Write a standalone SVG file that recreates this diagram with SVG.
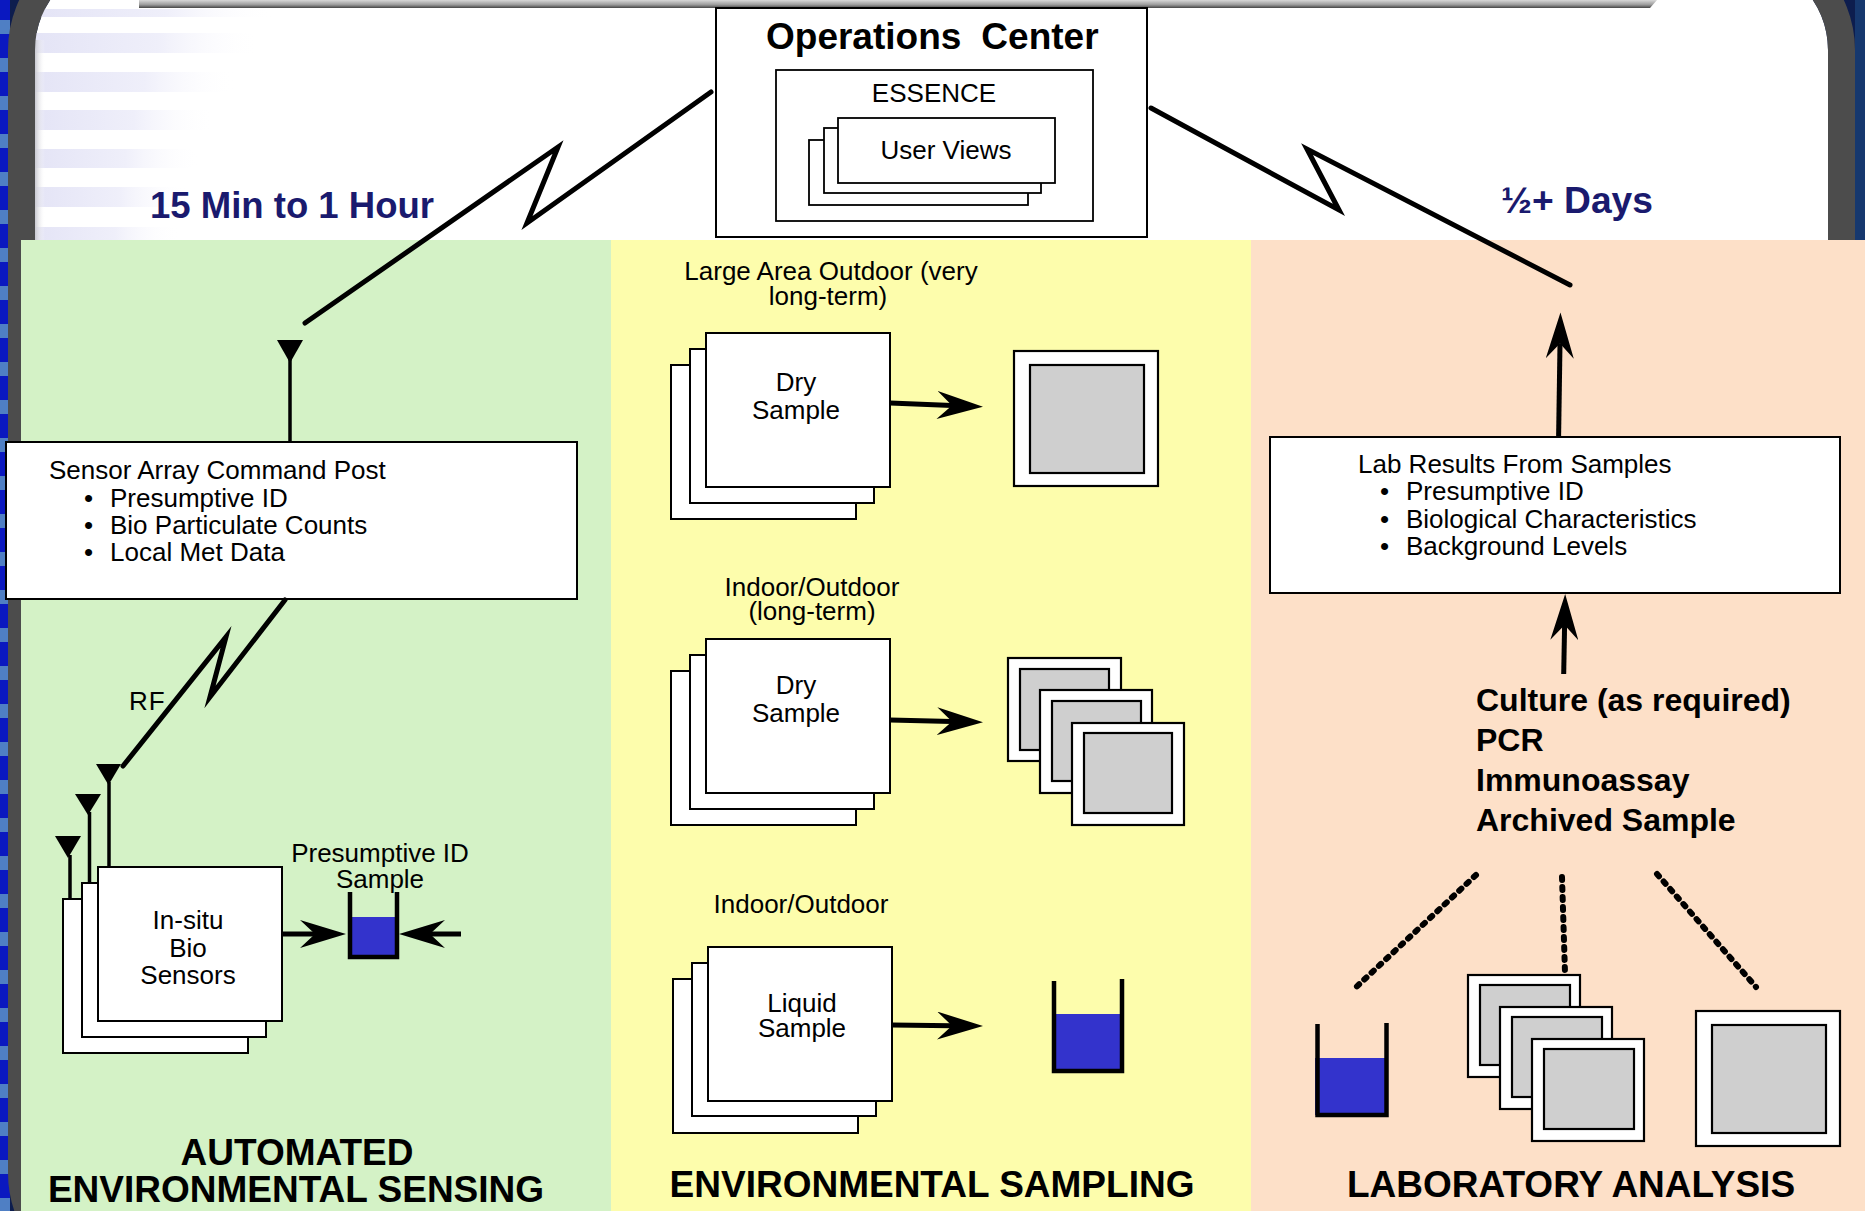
<svg xmlns="http://www.w3.org/2000/svg" width="1865" height="1211" viewBox="0 0 1865 1211">
<defs>
<style>
.t{font-family:"Liberation Sans",Arial,Helvetica,sans-serif;font-size:26px;fill:#000}
.c{text-anchor:middle}
.title{font-size:37px;font-weight:bold}
.time{font-size:36px;font-weight:bold;fill:#1a1a6e}
.list{font-size:32px;font-weight:bold}
.box{fill:#fff;stroke:#000;stroke-width:2}
.thin{fill:#fff;stroke:#000;stroke-width:1.8}
.film{fill:#cfcfcf;stroke:#000;stroke-width:2.2}
.frame{fill:#fff;stroke:#000;stroke-width:2.2}
.liquid{fill:#3333cc}
.wall{fill:none;stroke:#000;stroke-width:4.5;stroke-linejoin:miter}
.ant{fill:#000}
.mast{stroke:#000;stroke-width:3.5;fill:none}
.bolt{fill:none;stroke:#000;stroke-width:5;stroke-linejoin:miter;stroke-miterlimit:12;stroke-linecap:round}
.arr{fill:none;stroke:#000;stroke-width:5;marker-end:url(#ah)}
.dots{fill:none;stroke:#000;stroke-width:6;stroke-linecap:round;stroke-dasharray:3 7}
.stripe{fill:url(#fade)}
</style>
<linearGradient id="fade" x1="0" y1="0" x2="1" y2="0">
<stop offset="0" stop-color="#e4e4f6"/>
<stop offset="0.55" stop-color="#efeffa"/>
<stop offset="1" stop-color="#ffffff" stop-opacity="0"/>
</linearGradient>
<linearGradient id="bar" x1="0" y1="0" x2="0" y2="1">
<stop offset="0" stop-color="#d8d8d8"/>
<stop offset="0.6" stop-color="#9a9a9a"/>
<stop offset="1" stop-color="#444"/>
</linearGradient>
<linearGradient id="edge" x1="0" y1="0" x2="1" y2="0">
<stop offset="0" stop-color="#c8c8d0"/>
<stop offset="1" stop-color="#ffffff" stop-opacity="0"/>
</linearGradient>
<pattern id="bluestripes" x="0" y="0" width="10" height="38" patternUnits="userSpaceOnUse">
<rect width="10" height="38" fill="#0a18c0"/>
<rect y="20" width="10" height="14" fill="#4f7fc4"/>
</pattern>
<marker id="ah" markerUnits="userSpaceOnUse" markerWidth="46" markerHeight="28" viewBox="0 0 46 28" refX="15" refY="14" orient="auto">
<path d="M46,14 L0,0 L15,14 L0,28 Z" fill="#000"/>
</marker>
</defs>

<g id="background">
<rect x="0" y="0" width="1865" height="1211" fill="#0d1d4e"/>
<rect x="0" y="0" width="10" height="1211" fill="url(#bluestripes)"/>
<rect x="1855" y="0" width="10" height="1211" fill="#16386e"/>
<rect x="35" y="-40" width="1793" height="1300" rx="90" fill="#fff"/>
<rect class="stripe" x="35" y="9" width="240" height="8"/>
<rect class="stripe" x="35" y="33" width="225" height="20"/>
<rect class="stripe" x="35" y="72" width="200" height="20"/>
<rect class="stripe" x="35" y="110" width="180" height="20"/>
<rect class="stripe" x="35" y="149" width="165" height="19"/>
<rect class="stripe" x="35" y="187" width="153" height="20"/>
<rect class="stripe" x="35" y="227" width="145" height="13"/>
<rect x="35" y="40" width="10" height="200" fill="url(#edge)"/>
<rect x="21.5" y="-53.5" width="1820" height="1330" rx="103.5" fill="none" stroke="#4c4c4c" stroke-width="27"/>
<path d="M139,0 H1657 L1650,8 H139 Z" fill="url(#bar)"/>
</g>

<g id="panels">
<rect x="21" y="240" width="590" height="971" fill="#d4f2c6"/>
<rect x="611" y="240" width="640" height="971" fill="#fdfdac"/>
<rect x="1251" y="240" width="614" height="971" fill="#fde0c8"/>
</g>

<g id="labels">
<text class="t time" x="150" y="218" textLength="284" lengthAdjust="spacingAndGlyphs">15 Min to 1 Hour</text>
<text class="t time" x="1501" y="213" textLength="152" lengthAdjust="spacingAndGlyphs">½+ Days</text>
<text class="t title c" x="297" y="1165">AUTOMATED</text>
<text class="t title c" x="296" y="1202">ENVIRONMENTAL SENSING</text>
<text class="t title c" x="932" y="1197">ENVIRONMENTAL SAMPLING</text>
<text class="t title c" x="1571" y="1197">LABORATORY ANALYSIS</text>
</g>

<g id="operations-center">
<rect class="box" x="716" y="8" width="431" height="229"/>
<text class="t title" x="766" y="49">Operations<tspan dx="20">Center</tspan></text>
<rect class="thin" x="776" y="70" width="317" height="151"/>
<text class="t c" x="934" y="102">ESSENCE</text>
<rect class="thin" x="809" y="140" width="219" height="65"/>
<rect class="thin" x="824" y="128" width="217" height="65"/>
<rect class="thin" x="838" y="118" width="217" height="65"/>
<text class="t c" x="946" y="159">User Views</text>
</g>

<g id="sensor-command-post">
<line class="mast" x1="290" y1="358" x2="290" y2="442"/>
<polygon class="ant" points="277,340 303,340 290,363"/>
<rect class="box" x="6" y="442" width="571" height="157"/>
<text class="t" x="49" y="479">Sensor Array Command Post</text>
<text class="t" x="84" y="507">•</text><text class="t" x="110" y="507">Presumptive ID</text>
<text class="t" x="84" y="534">•</text><text class="t" x="110" y="534">Bio Particulate Counts</text>
<text class="t" x="84" y="561">•</text><text class="t" x="110" y="561">Local Met Data</text>
</g>

<g id="insitu-sensors">
<line class="mast" x1="70" y1="855" x2="70" y2="899"/>
<polygon class="ant" points="55,836 81,836 68,858"/>
<line class="mast" x1="89.5" y1="812" x2="89.5" y2="883"/>
<polygon class="ant" points="75,794 101,794 88,815"/>
<line class="mast" x1="109" y1="782" x2="109" y2="867"/>
<polygon class="ant" points="96,764 121,764 108.5,785"/>
<rect class="box" x="63" y="899" width="185" height="154"/>
<rect class="box" x="82" y="883" width="184" height="154"/>
<rect class="box" x="98" y="867" width="184" height="154"/>
<text class="t c" x="188" y="929">In-situ</text>
<text class="t c" x="188" y="957">Bio</text>
<text class="t c" x="188" y="984">Sensors</text>
</g>

<g id="presumptive-sample">
<text class="t c" x="380" y="862">Presumptive ID</text>
<text class="t c" x="380" y="888">Sample</text>
<rect class="liquid" x="348" y="917" width="48" height="41"/>
<path class="wall" d="M350,892 V957 H397 V892"/>
</g>

<g id="large-area-outdoor">
<text class="t c" x="831" y="280">Large Area Outdoor (very</text>
<text class="t c" x="828" y="305">long-term)</text>
<rect class="box" x="671" y="365" width="185" height="154"/>
<rect class="box" x="690" y="349" width="184" height="154"/>
<rect class="box" x="706" y="333" width="184" height="154"/>
<text class="t c" x="796" y="391">Dry</text>
<text class="t c" x="796" y="419">Sample</text>
</g>

<g id="filter-single">
<rect class="frame" x="1014" y="351" width="144" height="135"/>
<rect class="film" x="1030" y="365" width="114" height="108"/>
</g>

<g id="indoor-outdoor-long">
<text class="t c" x="812" y="596">Indoor/Outdoor</text>
<text class="t c" x="812" y="620">(long-term)</text>
<rect class="box" x="671" y="671" width="185" height="154"/>
<rect class="box" x="690" y="655" width="184" height="154"/>
<rect class="box" x="706" y="639" width="184" height="154"/>
<text class="t c" x="796" y="694">Dry</text>
<text class="t c" x="796" y="722">Sample</text>
</g>

<g id="filter-stack">
<rect class="frame" x="1008" y="658" width="113" height="103"/>
<rect class="film" x="1020" y="669" width="89" height="81"/>
<rect class="frame" x="1040" y="690" width="112" height="103"/>
<rect class="film" x="1052" y="701" width="89" height="80"/>
<rect class="frame" x="1072" y="723" width="112" height="102"/>
<rect class="film" x="1084" y="733" width="88" height="80"/>
</g>

<g id="indoor-outdoor-liquid">
<text class="t c" x="801" y="913">Indoor/Outdoor</text>
<rect class="box" x="673" y="979" width="185" height="154"/>
<rect class="box" x="692" y="963" width="184" height="153"/>
<rect class="box" x="708" y="947" width="184" height="154"/>
<text class="t c" x="802" y="1012">Liquid</text>
<text class="t c" x="802" y="1037">Sample</text>
</g>

<g id="liquid-beaker">
<rect class="liquid" x="1052" y="1014" width="69" height="56"/>
<path class="wall" d="M1054,981 V1071 H1122 V979"/>
</g>

<g id="lab-results">
<rect class="box" x="1270" y="437" width="570" height="156"/>
<text class="t" x="1358" y="473">Lab Results From Samples</text>
<text class="t" x="1380" y="500">•</text><text class="t" x="1406" y="500">Presumptive ID</text>
<text class="t" x="1380" y="528">•</text><text class="t" x="1406" y="528">Biological Characteristics</text>
<text class="t" x="1380" y="555">•</text><text class="t" x="1406" y="555">Background Levels</text>
</g>

<g id="lab-methods">
<text class="t list" x="1476" y="711">Culture (as required)</text>
<text class="t list" x="1476" y="751">PCR</text>
<text class="t list" x="1476" y="791">Immunoassay</text>
<text class="t list" x="1476" y="831">Archived Sample</text>
</g>

<g id="lab-beaker">
<rect class="liquid" x="1315" y="1058" width="70" height="57"/>
<path class="wall" d="M1317.5,1024 V1115 H1386.5 V1023"/>
</g>

<g id="lab-filter-stack">
<rect class="frame" x="1468" y="975" width="112" height="102"/>
<rect class="film" x="1480" y="985" width="90" height="80"/>
<rect class="frame" x="1500" y="1007" width="112" height="102"/>
<rect class="film" x="1512" y="1017" width="90" height="80"/>
<rect class="frame" x="1532" y="1039" width="112" height="102"/>
<rect class="film" x="1544" y="1049" width="90" height="80"/>
</g>

<g id="lab-filter-single">
<rect class="frame" x="1696" y="1011" width="144" height="135"/>
<rect class="film" x="1712" y="1025" width="114" height="108"/>
</g>

<g id="connectors">
<path class="bolt" d="M711,92 L527,223 L558,147 L305,323"/>
<path class="bolt" d="M1151,108 L1339,210 L1307,149 L1570,285"/>
<path class="bolt" d="M285,600 L210,697 L226,637 L123,766"/>
<text class="t" x="129" y="710" letter-spacing="1">RF</text>
<path class="arr" d="M282,934 L315,934"/>
<path class="arr" d="M461,934 L430,934"/>
<path class="arr" d="M890,403 L952,405.5"/>
<path class="arr" d="M890,720 L952,721.5"/>
<path class="arr" d="M892,1025 L952,1025.7"/>
<path class="arr" d="M1558.6,437 L1560,343.5"/>
<path class="arr" d="M1563.7,674 L1564.6,625"/>
<path class="dots" d="M1476,875 L1352,991"/>
<path class="dots" d="M1562,877 L1565,973"/>
<path class="dots" d="M1657,874 L1756,987"/>
</g>
</svg>
